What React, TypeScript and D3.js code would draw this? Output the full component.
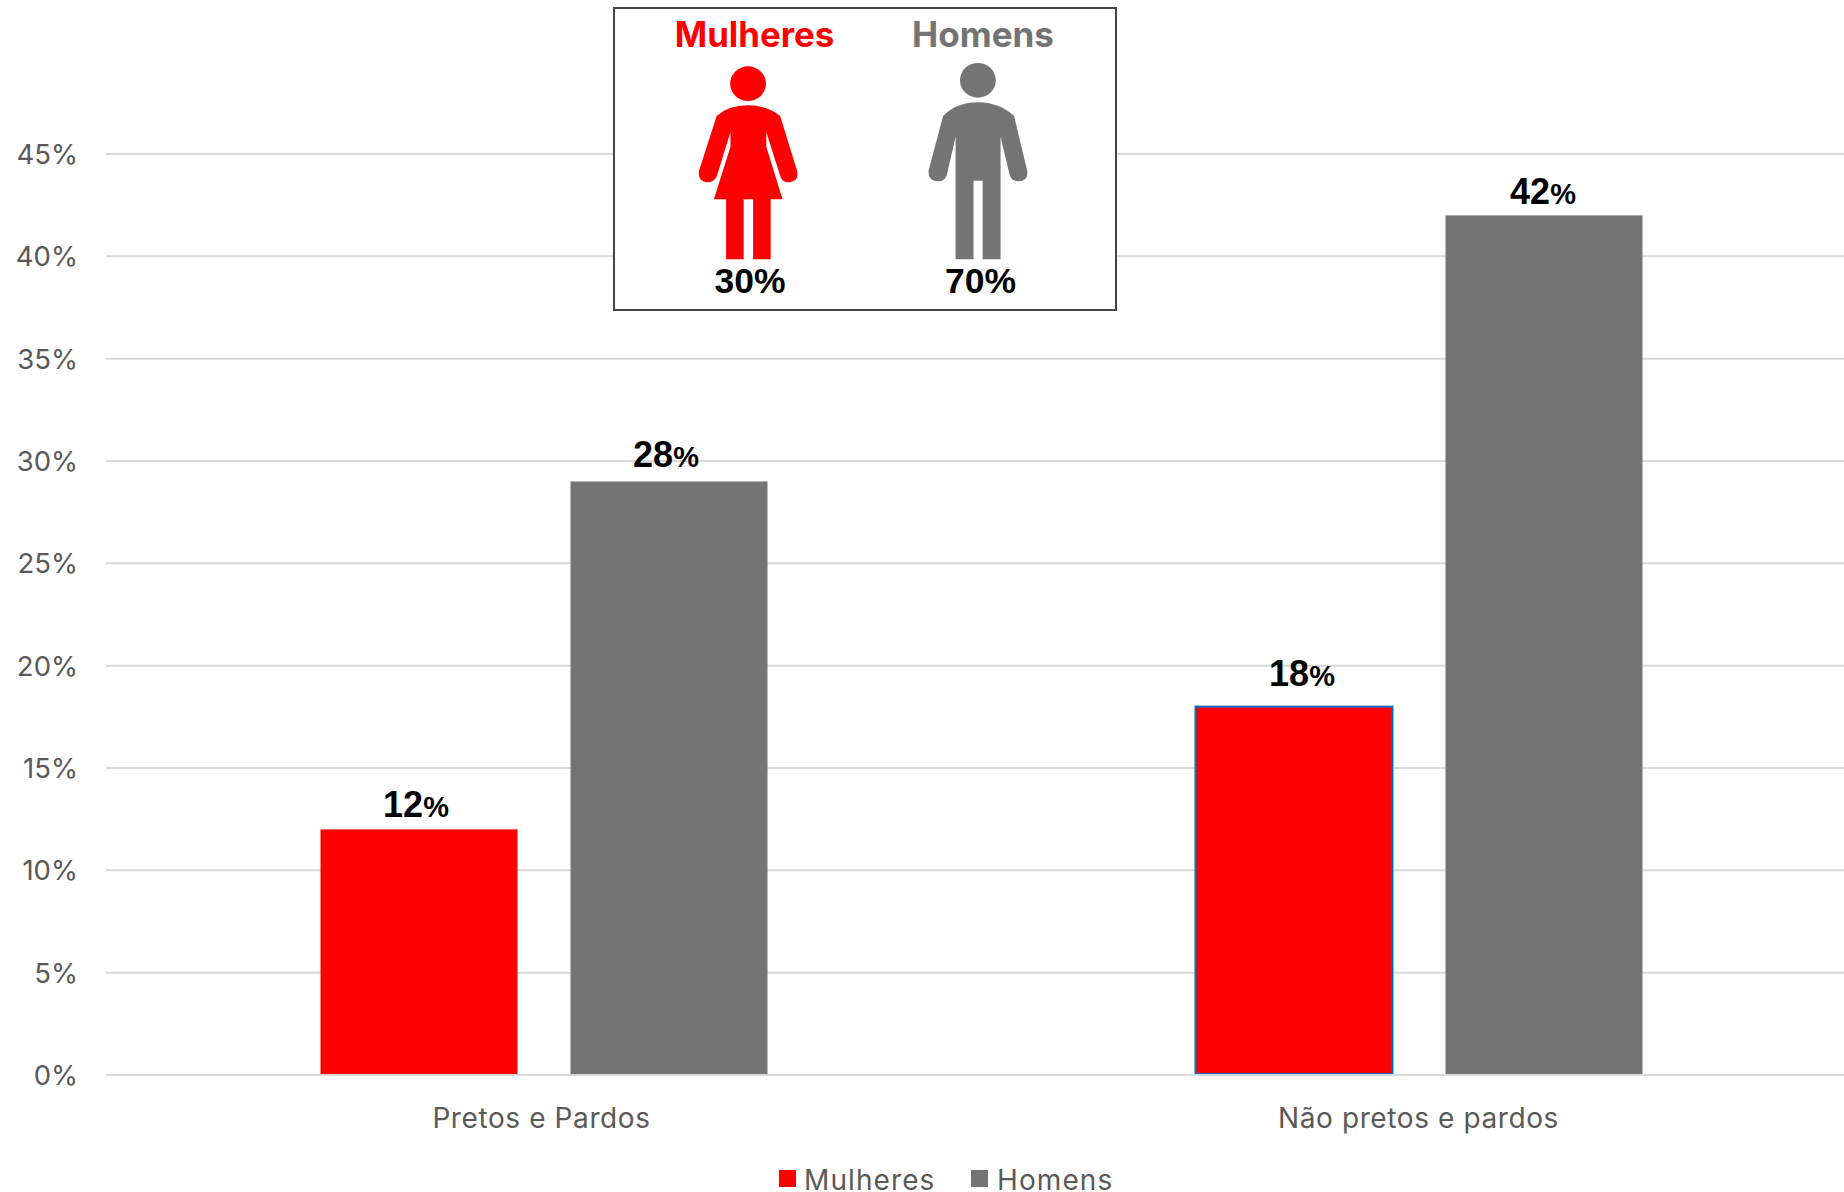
import React from "react";
import * as d3 from "d3";

const categories = ["Pretos e Pardos", "Não pretos e pardos"];
const seriesNames = ["Mulheres", "Homens"];
const mulheres = [12, 18];
const homens = [29, 42];
const mulheresLabels = ["12", "18"];
const homensLabels = ["28", "42"];
const yTicks = [0, 5, 10, 15, 20, 25, 30, 35, 40, 45];
const insetShares = ["30%", "70%"];

const RED = "#ff0000";
const GRAY = "#747474";
const TXT = "#595959";
const SANS = "Inter, 'Open Sans', sans-serif";
const BOLD = "'Liberation Sans', Arial, sans-serif";

const W = 1844, H = 1192;
const y = d3.scaleLinear().domain([0, 45]).range([1075, 154]);
const x0 = d3.scaleBand<string>().domain(categories).range([106.5, 1856.5]);
const GROUP = 447;
const x1 = d3.scaleBand<string>().domain(seriesNames).range([0, GROUP]).paddingInner(0.212);

// hand placement of the value labels relative to the top of each bar
const labelGap = [[12, 21], [14, 11]];
const labelShift = [[-3, 8], [-3, -1]];
const categoryShift = [-2.5, -0.5];

const womanBody = "M345,348 Q380,316 438,316 Q495,316 533,348 L583,512 Q590,545 558,547 Q540,547 534,530 L492,396 L492,440 L540,598 L505,598 L505,778 L453,778 L453,598 L425,598 L425,778 L373,778 L373,598 L337,598 L386,440 L386,396 L345,530 Q335,547 318,547 Q288,545 293,512 Z";
const manBody = "M1015,348 Q1055,307 1118,307 Q1180,307 1225,348 L1264,512 Q1268,543 1238,544 Q1218,544 1212,525 L1185,410 L1185,778 L1132,778 L1132,542 L1105,542 L1105,778 L1052,778 L1052,410 L1026,525 Q1020,544 1000,544 Q970,543 972,512 Z";

export default function App() {
  const groups = [mulheres, homens];
  const labels = [mulheresLabels, homensLabels];
  const colors = [RED, GRAY];
  return (
    <svg width={W} height={H} viewBox={`0 0 ${W} ${H}`} style={{ position: "absolute", left: 0, top: 0, display: "block", background: "#fff" }}>
      {yTicks.filter((t) => t > 0).map((t) => (
        <line key={t} x1={106} x2={W} y1={y(t)} y2={y(t)} stroke="#d9d9d9" strokeWidth={2} />
      ))}
      {yTicks.map((t) => (
        <text key={t} x={78} y={y(t) + 10} textAnchor="end" fontFamily={SANS} fontSize={27.5} fill={TXT}>{t}%</text>
      ))}
      {seriesNames.map((s, si) =>
        categories.map((c, ci) => {
          const cx = x0(c)! + x0.bandwidth() / 2 - GROUP / 2;
          const bx = cx + x1(s)!;
          const top = y(groups[si][ci]);
          const outlined = si === 0 && ci === 1;
          return (
            <g key={s + c}>
              <rect
                x={bx} y={top} width={x1.bandwidth()} height={y(0) - 1 - top}
                fill={colors[si]}
                stroke={outlined ? "#0070c0" : "none"} strokeWidth={outlined ? 2 : 0}
              />
              <text
                x={bx + x1.bandwidth() / 2 + labelShift[si][ci]}
                y={top - labelGap[si][ci]}
                textAnchor="middle" fontFamily={BOLD} fontWeight={700} fontSize={36} fill="#000"
              >
                {labels[si][ci]}<tspan fontSize={29}>%</tspan>
              </text>
            </g>
          );
        })
      )}
      <line x1={106} x2={W} y1={y(0)} y2={y(0)} stroke="#d9d9d9" strokeWidth={2} />
      {categories.map((c, i) => (
        <text key={c} x={x0(c)! + x0.bandwidth() / 2 + categoryShift[i]} y={1128} textAnchor="middle" fontFamily={SANS} fontSize={28} letterSpacing={0.6} fill={TXT}>{c}</text>
      ))}
      {seriesNames.map((s, i) => {
        const sx = [779, 971][i], tx = [804, 997][i];
        return (
          <g key={s}>
            <rect x={sx} y={1170} width={17} height={17} fill={colors[i]} />
            <text x={tx} y={1190} fontFamily={SANS} fontSize={28} letterSpacing={1.1} fill={TXT}>{s}</text>
          </g>
        );
      })}
      <rect x={614} y={8} width={502} height={302} fill="#fff" stroke="#444" strokeWidth={2} />
      <text x={754.5} y={47} textAnchor="middle" fontFamily={SANS} fontWeight={700} fontSize={34.8} fill={RED}>{seriesNames[0]}</text>
      <text x={983} y={47} textAnchor="middle" fontFamily={SANS} fontWeight={700} fontSize={35} fill={GRAY}>{seriesNames[1]}</text>
      <g transform={`translate(600,0) scale(${530 / 1568},${1 / 3})`}>
        <ellipse cx={438} cy={251} rx={53} ry={52} fill={RED} />
        <path d={womanBody} fill={RED} />
        <ellipse cx={1118} cy={241} rx={53} ry={52} fill={GRAY} />
        <path d={manBody} fill={GRAY} />
      </g>
      <text x={750} y={293} textAnchor="middle" fontFamily={BOLD} fontWeight={700} fontSize={35.5} fill="#000">{insetShares[0]}</text>
      <text x={980.5} y={293} textAnchor="middle" fontFamily={BOLD} fontWeight={700} fontSize={35.5} fill="#000">{insetShares[1]}</text>
    </svg>
  );
}
